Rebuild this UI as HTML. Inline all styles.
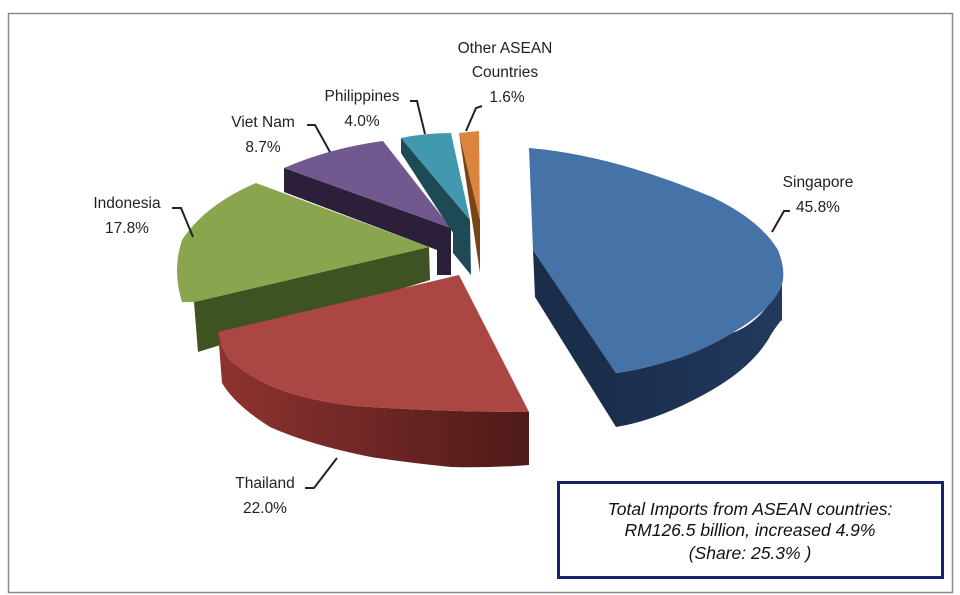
<!DOCTYPE html>
<html><head><meta charset="utf-8"><style>
html,body{margin:0;padding:0;background:#fff;}
svg{display:block;}
text{font-family:"Liberation Sans",Arial,sans-serif;font-size:15.5px;fill:#222;}
.b{font-style:italic;font-size:17.5px;fill:#111;}
</style></head><body>
<svg width="960" height="595" viewBox="0 0 960 595" xmlns="http://www.w3.org/2000/svg">
<defs>
<linearGradient id="rs" x1="0" x2="1" y1="0" y2="0"><stop offset="0" stop-color="#8f3330"/><stop offset="1" stop-color="#4e1a18"/></linearGradient>
<linearGradient id="bs" x1="0" x2="1" y1="0" y2="0"><stop offset="0" stop-color="#1b2f4e"/><stop offset="1" stop-color="#22395e"/></linearGradient>
</defs>
<rect x="8.5" y="13.5" width="944" height="579" fill="#fff" stroke="#8a8a8a" stroke-width="1.5"/>

<!-- Singapore -->
<path d="M533,250 L616,373 L616,427 L535,297 Z" fill="#1a2d4b"/>
<path d="M782,267 Q784,290 772,300 Q755,325 732,333 Q700,352 672,360 Q640,370 616,373 L616,427 Q660,420 712,390 Q755,365 772,333 Q784,315 782,322 Z" fill="url(#bs)"/>
<path d="M529,148 Q612,155 712,197 Q760,220 778,250 Q786,270 782,285 Q772,310 732,333 Q700,352 672,360 Q640,370 616,373 L533,250 Z" fill="#4572a7"/>

<!-- Indonesia -->
<path d="M194,302 L429,247 L430,280 L198,352 Z" fill="#3f5221"/>
<path d="M256,183 L429,247 L194,302 L182,302 Q172,270 182,240 Q205,205 256,183 Z" fill="#89a54e"/>

<!-- Viet Nam -->
<path d="M284,168 L451,228 L451,275 L437,275 L437,250 L284,192 Z" fill="#2c1f3a"/>
<path d="M284,168 Q330,148 383,141 L451,228 Z" fill="#71588f"/>

<!-- Philippines -->
<path d="M401,138 L470,220 L471,275 L453,253 L453,233 L401,153 Z" fill="#1d4a55"/>
<path d="M401,138 Q425,133 451,133 L470,220 Z" fill="#4198af"/>

<!-- Other -->
<path d="M459,133 L480,220 L480,273 L466,180 Z" fill="#7a4415"/>
<path d="M459,133 L479,131 L480,220 Z" fill="#db843d"/>

<!-- Thailand -->
<path d="M218,332 Q222,350 230,360 Q255,382 290,393 Q330,405 371,407 Q450,412 529,412 L529,465 Q490,468 451,467 Q410,463 371,457 Q310,445 270,427 Q235,405 222,383 Z" fill="url(#rs)"/>
<path d="M459,275 L529,412 Q450,412 371,407 Q330,405 290,393 Q255,382 230,360 Q222,350 218,332 Z" fill="#aa4643"/>

<!-- leader lines -->
<g fill="none" stroke="#222" stroke-width="2">
<path d="M466,131 L476,108 L482,106"/>
<path d="M410,101 L417,101 L425,134"/>
<path d="M307,125 L315,125 L330,152"/>
<path d="M172,208 L181,208 L193,237"/>
<path d="M305,488 L314,488 L337,458"/>
<path d="M772,232 L784,211 L790,211"/>
</g>

<text x="505" y="53" text-anchor="middle">Other ASEAN</text>
<text x="505" y="77" text-anchor="middle">Countries</text>
<text x="507" y="102" text-anchor="middle">1.6%</text>
<text x="362" y="101" text-anchor="middle">Philippines</text>
<text x="362" y="126" text-anchor="middle">4.0%</text>
<text x="263" y="127" text-anchor="middle">Viet Nam</text>
<text x="263" y="152" text-anchor="middle">8.7%</text>
<text x="127" y="208" text-anchor="middle">Indonesia</text>
<text x="127" y="233" text-anchor="middle">17.8%</text>
<text x="265" y="488" text-anchor="middle">Thailand</text>
<text x="265" y="513" text-anchor="middle">22.0%</text>
<text x="818" y="187" text-anchor="middle">Singapore</text>
<text x="818" y="212" text-anchor="middle">45.8%</text>

<rect x="558.5" y="482.5" width="384" height="95" fill="#fff" stroke="#16226a" stroke-width="3"/>
<text class="b" x="750" y="515" text-anchor="middle">Total Imports from ASEAN countries:</text>
<text class="b" x="750" y="536" text-anchor="middle">RM126.5 billion, increased 4.9%</text>
<text class="b" x="750" y="559" text-anchor="middle">(Share: 25.3% )</text>
</svg>
</body></html>
